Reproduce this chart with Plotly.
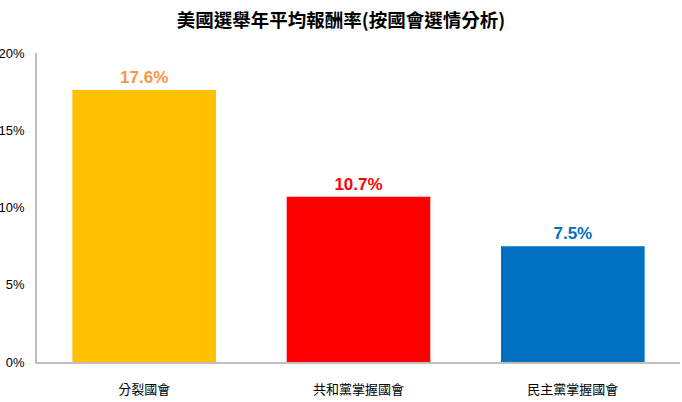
import plotly.graph_objects as go

categories = ["分裂國會", "共和黨掌握國會", "民主黨掌握國會"]
values = [17.6, 10.7, 7.5]
bar_colors = ["#FFC000", "#FF0000", "#0070C0"]
label_colors = ["#F79646", "#FF0000", "#0070C0"]
tick_vals = [0, 5, 10, 15, 20]
tick_text = ["0%", "5%", "10%", "15%", "20%"]

fig = go.Figure()
fig.add_trace(go.Bar(
    x=categories, y=values,
    marker=dict(color=bar_colors, line=dict(width=0)),
    text=[f"{v:.1f}%" for v in values],
    textposition="outside",
    textfont=dict(color=label_colors, size=17, family="Liberation Sans, Arial, sans-serif"),
    cliponaxis=False,
    width=0.67,
))
fig.update_traces(texttemplate="<b>%{text}</b>")
fig.update_layout(
    width=682, height=402,
    margin=dict(l=37, r=2, t=53, b=40),
    paper_bgcolor="white", plot_bgcolor="white",
    title=dict(text="<b>美國選舉年平均報酬率(按國會選情分析)</b>", x=0.5, xanchor="center",
               y=0.948, yanchor="middle",
               font=dict(size=18.5, color="#000000", family="Noto Sans CJK TC, sans-serif")),
    showlegend=False,
    bargap=0.33,
    xaxis=dict(showline=True, linecolor="#BFBFBF", linewidth=1.5, ticks="",
               automargin=False,
               tickfont=dict(size=13, color="#000000", family="Noto Sans CJK TC, sans-serif"),
               ticklabelstandoff=15),
    yaxis=dict(range=[0, 20], tickvals=tick_vals, ticktext=tick_text,
               automargin=False,
               showline=True, linecolor="#BFBFBF", linewidth=1.5, showgrid=False,
               zeroline=False, ticks="", ticklabelstandoff=8,
               tickfont=dict(size=13, color="#000000", family="Liberation Sans, Arial, sans-serif")),
)
fig.write_html("out.html", config={"displayModeBar": False},
               post_script="document.body.style.margin='0';document.body.style.overflow='hidden';")
